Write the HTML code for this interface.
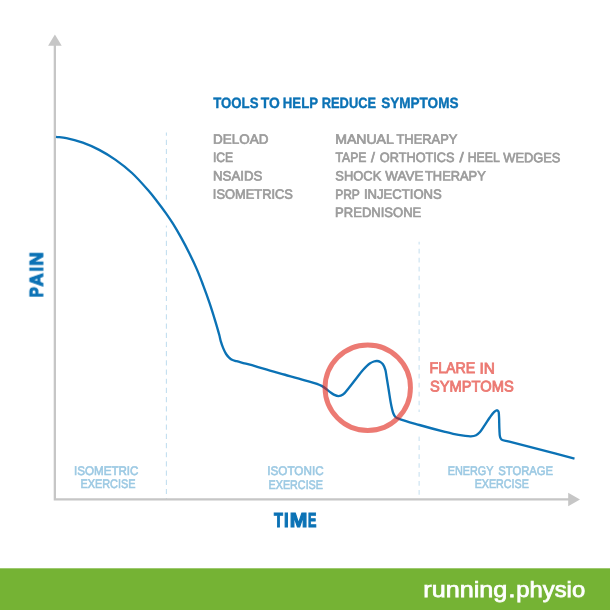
<!DOCTYPE html>
<html>
<head>
<meta charset="utf-8">
<title>Pain vs Time</title>
<style>
  html, body { margin: 0; padding: 0; background: #ffffff; }
  body { width: 610px; height: 610px; overflow: hidden; position: relative; font-family: "Liberation Sans", sans-serif; }
  svg { position: absolute; left: 0; top: 0; display: block; }
  text { font-family: "Liberation Sans", sans-serif; }
  .gray { fill: #9b9b9b; font-size: 13.5px; font-weight: normal; stroke: #9b9b9b; stroke-width: 0.7px; }
  .title { fill: #0b72b5; font-size: 14.9px; font-weight: bold; stroke: #0b72b5; stroke-width: 0.4px; }
  .axis { fill: #0b72b5; font-size: 19.4px; font-weight: bold; stroke: #0b72b5; stroke-width: 1.1px; }
  .axisv { fill: #0b72b5; font-size: 18.5px; font-weight: bold; stroke: #0b72b5; stroke-width: 1.1px; }
  .phase { fill: #9cc9e3; font-size: 12.5px; font-weight: normal; stroke: #9cc9e3; stroke-width: 0.6px; }
  .flare { fill: #ec7a73; font-size: 15.4px; font-weight: normal; stroke: #ec7a73; stroke-width: 0.85px; }
  .brand { fill: #ffffff; font-size: 21.4px; font-weight: normal; stroke: #ffffff; stroke-width: 0.75px; }
</style>
</head>
<body>
<svg width="610" height="610" viewBox="0 0 610 610">
  <rect x="0" y="0" width="610" height="610" fill="#ffffff"/>

  <!-- green footer -->
  <rect x="0" y="568.3" width="610" height="42" fill="#75b334"/>

  <!-- dashed phase dividers -->
  <line x1="166.4" y1="132.5" x2="166.4" y2="499.4" stroke="#c3dff0" stroke-width="1.1" stroke-dasharray="5.2 3.99" stroke-dashoffset="2"/>
  <line x1="419.15" y1="241.8" x2="419.15" y2="499.4" stroke="#d3e7f3" stroke-width="1.35" stroke-dasharray="4.7 4.23" stroke-dashoffset="1.88"/>

  <!-- dashes fade out where the curve crosses them -->
  <rect x="164.9" y="199.6" width="3" height="26" fill="#ffffff"/>
  <rect x="417.4" y="412" width="3.5" height="24.2" fill="#ffffff"/>

  <!-- axes -->
  <polyline points="54.85,45 54.85,499.45 569,499.45" fill="none" stroke="#c6c6c6" stroke-width="2.3" stroke-linejoin="miter"/>
  <polygon points="54.9,34.6 48.1,45.8 61.7,45.8" fill="#c6c6c6"/>
  <polygon points="580,499.45 568.2,492.7 568.2,506.2" fill="#c6c6c6"/>

  <!-- pain curve -->
  <path fill="none" stroke="#0b72b5" stroke-width="2.35" stroke-linecap="butt" stroke-linejoin="round"
    d="M 56.00 136.80 C 59.47 137.23 62.57 137.33 66.40 138.10 C 71.28 139.08 77.40 140.77 82.80 142.70 C 88.34 144.68 93.83 147.10 99.20 149.90 C 104.77 152.80 110.25 156.15 115.60 159.90 C 121.19 163.82 126.71 168.10 132.00 173.00 C 137.67 178.25 143.98 185.50 148.40 190.60 C 151.62 194.31 153.63 196.94 156.40 200.50 C 159.54 204.53 163.30 209.52 166.20 213.60 C 168.66 217.07 170.54 219.80 172.80 223.40 C 175.45 227.61 178.32 232.58 181.00 237.40 C 183.79 242.43 186.56 247.69 189.20 253.00 C 191.90 258.42 194.65 264.15 197.00 269.60 C 199.22 274.74 201.00 279.50 203.00 284.80 C 205.17 290.53 207.46 296.78 209.50 302.80 C 211.53 308.78 213.49 315.14 215.20 320.80 C 216.71 325.80 218.28 331.15 219.30 335.00 C 219.99 337.61 220.25 339.42 220.90 341.60 C 221.55 343.79 222.32 346.01 223.20 348.10 C 224.06 350.14 225.02 352.33 226.10 354.00 C 227.02 355.41 228.05 356.60 229.10 357.60 C 230.03 358.49 230.86 359.22 232.00 359.80 C 233.31 360.47 234.86 360.70 236.60 361.20 C 238.87 361.85 241.68 362.55 244.50 363.30 C 247.75 364.17 251.20 365.02 255.00 366.10 C 259.56 367.39 264.99 369.16 270.00 370.60 C 274.99 372.04 279.66 373.26 285.00 374.75 C 291.12 376.46 298.40 378.37 304.70 380.30 C 310.60 382.10 317.26 383.62 321.70 385.90 C 324.96 387.58 327.19 389.98 329.50 391.60 C 331.31 392.87 332.78 394.14 334.40 394.90 C 335.78 395.55 337.11 396.13 338.50 396.10 C 339.97 396.07 341.51 395.59 343.00 394.60 C 345.09 393.21 347.03 390.14 349.20 387.50 C 351.79 384.35 354.89 380.08 357.40 376.90 C 359.49 374.26 361.13 371.95 363.20 369.70 C 365.25 367.48 367.72 364.91 369.75 363.50 C 371.19 362.50 372.53 361.91 373.85 361.50 C 374.97 361.15 376.03 360.92 377.10 361.00 C 378.18 361.08 379.34 361.46 380.30 362.00 C 381.28 362.55 382.14 363.27 382.90 364.30 C 383.89 365.65 384.69 367.72 385.30 369.70 C 385.98 371.91 386.13 374.25 386.60 377.00 C 387.21 380.57 387.89 384.95 388.60 389.30 C 389.41 394.21 390.26 400.58 391.20 405.00 C 391.90 408.28 392.52 411.33 393.40 413.50 C 394.00 414.97 394.42 416.08 395.40 417.00 C 396.46 418.00 397.70 418.32 399.70 419.10 C 403.84 420.72 412.39 423.01 419.40 425.00 C 427.36 427.26 438.85 430.35 445.00 431.90 C 448.45 432.77 450.22 433.22 453.10 433.80 C 456.36 434.46 460.42 435.17 463.60 435.60 C 466.22 435.95 468.59 436.42 470.80 436.30 C 472.71 436.20 474.55 435.94 476.10 435.20 C 477.60 434.48 478.74 433.37 480.00 432.00 C 481.59 430.28 483.04 427.71 484.60 425.40 C 486.30 422.90 488.14 419.83 489.80 417.50 C 491.18 415.56 492.47 413.56 493.80 412.30 C 494.77 411.38 495.86 410.31 496.70 410.30 C 497.34 410.29 498.01 410.77 498.40 411.40 C 499.01 412.37 498.84 414.20 499.00 416.20 C 499.26 419.49 499.17 425.49 499.40 429.30 C 499.58 432.27 499.49 435.38 500.10 437.20 C 500.47 438.29 500.74 438.96 501.60 439.60 C 502.93 440.59 505.68 440.74 508.20 441.40 C 511.56 442.29 514.63 443.02 520.00 444.40 C 531.54 447.37 556.33 453.87 574.50 458.60"/>

  <!-- flare circle -->
  <circle cx="367.75" cy="387.75" r="42.7" fill="none" stroke="#df2116" stroke-opacity="0.6" stroke-width="4.9"/>

<g style="opacity:0.999">
  <text class="title" y="107.70" transform="rotate(0.03 213.20 107.70)"><tspan x="213.20" textLength="45.27" lengthAdjust="spacingAndGlyphs">TOOLS</tspan> <tspan x="260.70" textLength="18.99" lengthAdjust="spacingAndGlyphs">TO</tspan> <tspan x="282.84" textLength="34.95" lengthAdjust="spacingAndGlyphs">HELP</tspan> <tspan x="321.75" textLength="54.28" lengthAdjust="spacingAndGlyphs">REDUCE</tspan> <tspan x="381.17" textLength="77.34" lengthAdjust="spacingAndGlyphs">SYMPTOMS</tspan></text>
  <text class="gray" y="143.75" transform="rotate(0.03 213.05 143.75)"><tspan x="213.05" textLength="55.33" lengthAdjust="spacingAndGlyphs">DELOAD</tspan></text>
  <text class="gray" y="162.05" transform="rotate(0.03 212.90 162.05)"><tspan x="212.90" textLength="20.24" lengthAdjust="spacingAndGlyphs">ICE</tspan></text>
  <text class="gray" y="180.45" transform="rotate(0.03 213.07 180.45)"><tspan x="213.07" textLength="49.19" lengthAdjust="spacingAndGlyphs">NSAIDS</tspan></text>
  <text class="gray" y="198.75" transform="rotate(0.03 212.85 198.75)"><tspan x="212.85" textLength="80.11" lengthAdjust="spacingAndGlyphs">ISOMETRICS</tspan></text>
  <text class="gray" y="143.75" transform="rotate(0.03 335.23 143.75)"><tspan x="335.23" textLength="58.09" lengthAdjust="spacingAndGlyphs">MANUAL</tspan> <tspan x="396.50" textLength="60.88" lengthAdjust="spacingAndGlyphs">THERAPY</tspan></text>
  <text class="gray" y="162.05" transform="rotate(0.03 335.60 162.05)"><tspan x="335.60" textLength="30.84" lengthAdjust="spacingAndGlyphs">TAPE</tspan> <tspan x="371.02" textLength="3.88" lengthAdjust="spacingAndGlyphs">/</tspan> <tspan x="379.86" textLength="74.69" lengthAdjust="spacingAndGlyphs">ORTHOTICS</tspan> <tspan x="459.46" textLength="4.20" lengthAdjust="spacingAndGlyphs">/</tspan> <tspan x="467.73" textLength="31.60" lengthAdjust="spacingAndGlyphs">HEEL</tspan> <tspan x="503.24" textLength="57.21" lengthAdjust="spacingAndGlyphs">WEDGES</tspan></text>
  <text class="gray" y="180.45" transform="rotate(0.03 335.36 180.45)"><tspan x="335.36" textLength="45.88" lengthAdjust="spacingAndGlyphs">SHOCK</tspan> <tspan x="385.35" textLength="38.02" lengthAdjust="spacingAndGlyphs">WAVE</tspan> <tspan x="425.00" textLength="60.78" lengthAdjust="spacingAndGlyphs">THERAPY</tspan></text>
  <text class="gray" y="198.75" transform="rotate(0.03 335.14 198.75)"><tspan x="335.14" textLength="24.50" lengthAdjust="spacingAndGlyphs">PRP</tspan> <tspan x="363.93" textLength="77.83" lengthAdjust="spacingAndGlyphs">INJECTIONS</tspan></text>
  <text class="gray" y="217.05" transform="rotate(0.03 335.08 217.05)"><tspan x="335.08" textLength="86.20" lengthAdjust="spacingAndGlyphs">PREDNISONE</tspan></text>
  <text class="axis" y="526.90" transform="rotate(0.03 273.89 526.90)"><tspan x="273.89" textLength="8.92" lengthAdjust="spacingAndGlyphs">T</tspan><tspan x="284.10" textLength="4.65" lengthAdjust="spacingAndGlyphs">I</tspan><tspan x="289.68" textLength="17.63" lengthAdjust="spacingAndGlyphs">M</tspan><tspan x="308.01" textLength="8.41" lengthAdjust="spacingAndGlyphs">E</tspan></text>
  <text class="phase" y="474.90" transform="rotate(0.03 74.00 474.90)"><tspan x="74.00" textLength="64.48" lengthAdjust="spacingAndGlyphs">ISOMETRIC</tspan></text>
  <text class="phase" y="488.10" transform="rotate(0.03 80.45 488.10)"><tspan x="80.45" textLength="55.04" lengthAdjust="spacingAndGlyphs">EXERCISE</tspan></text>
  <text class="phase" y="474.90" transform="rotate(0.03 267.30 474.90)"><tspan x="267.30" textLength="56.29" lengthAdjust="spacingAndGlyphs">ISOTONIC</tspan></text>
  <text class="phase" y="489.10" transform="rotate(0.03 268.55 489.10)"><tspan x="268.55" textLength="54.43" lengthAdjust="spacingAndGlyphs">EXERCISE</tspan></text>
  <text class="phase" y="474.90" transform="rotate(0.03 447.75 474.90)"><tspan x="447.75" textLength="45.57" lengthAdjust="spacingAndGlyphs">ENERGY</tspan> <tspan x="498.27" textLength="54.87" lengthAdjust="spacingAndGlyphs">STORAGE</tspan></text>
  <text class="phase" y="488.10" transform="rotate(0.03 474.66 488.10)"><tspan x="474.66" textLength="54.23" lengthAdjust="spacingAndGlyphs">EXERCISE</tspan></text>
  <text class="flare" y="373.40" transform="rotate(0.03 429.51 373.40)"><tspan x="429.51" textLength="45.82" lengthAdjust="spacingAndGlyphs">FLARE</tspan> <tspan x="479.40" textLength="15.41" lengthAdjust="spacingAndGlyphs">IN</tspan></text>
  <text class="flare" y="391.50" transform="rotate(0.03 429.96 391.50)"><tspan x="429.96" textLength="83.74" lengthAdjust="spacingAndGlyphs">SYMPTOMS</tspan></text>
  <text class="brand" y="597.10" transform="rotate(0.03 423.32 597.10)"><tspan x="423.32" textLength="83.98" lengthAdjust="spacingAndGlyphs">running</tspan><tspan x="508.15" textLength="7.36" lengthAdjust="spacingAndGlyphs">.</tspan><tspan x="516.29" textLength="68.87" lengthAdjust="spacingAndGlyphs">physio</tspan></text>
  <text class="axisv" y="0" transform="translate(42.85,296.7) rotate(-89.97)"><tspan x="-0.61" textLength="10.09" lengthAdjust="spacingAndGlyphs">P</tspan><tspan x="10.35" textLength="13.23" lengthAdjust="spacingAndGlyphs">A</tspan><tspan x="25.14" textLength="4.52" lengthAdjust="spacingAndGlyphs">I</tspan><tspan x="30.94" textLength="13.49" lengthAdjust="spacingAndGlyphs">N</tspan></text>
</g>
</svg>
</body>
</html>
